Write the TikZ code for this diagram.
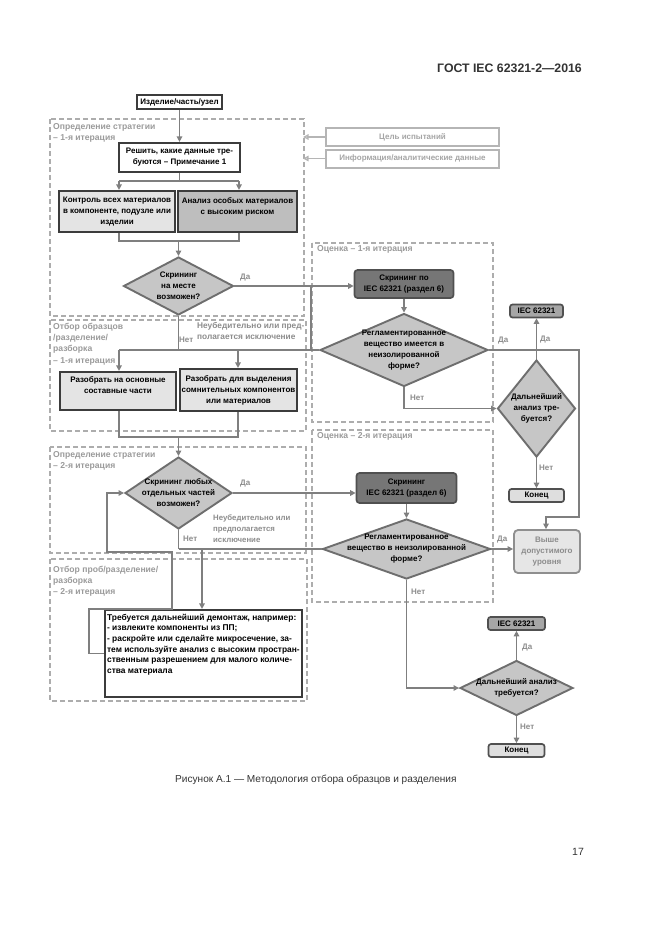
\documentclass[tikz,border=0pt]{standalone}
\usepackage{fontspec}
\setmainfont{Liberation Sans}
\usetikzlibrary{shapes.geometric,arrows.meta}
\definecolor{lnc}{HTML}{7F7F7F}
\definecolor{regc}{HTML}{ADADAD}
\definecolor{labc}{HTML}{9A9A9A}
\definecolor{ync}{HTML}{8C8C8C}
\definecolor{boxc}{HTML}{3C3C3C}
\definecolor{diaf}{HTML}{C6C6C6}
\definecolor{diac}{HTML}{6E6E6E}
\definecolor{lightf}{HTML}{E4E4E4}
\definecolor{midf}{HTML}{BEBEBE}
\definecolor{scf}{HTML}{767676}
\definecolor{scb}{HTML}{505050}
\definecolor{iecf}{HTML}{A6A6A6}
\definecolor{endf}{HTML}{DEDEDE}
\definecolor{abf}{HTML}{E6E6E6}
\definecolor{abb}{HTML}{8F8F8F}
\definecolor{abt}{HTML}{8C8C8C}
\definecolor{gb}{HTML}{B5B5B5}
\definecolor{gt}{HTML}{A5A5A5}
\definecolor{capc}{HTML}{333333}
\newcommand\mybf{\fontsize{8}{11}\selectfont\bfseries}
\newcommand\mylab{\fontsize{8.6}{11.2}\selectfont\bfseries}
\begin{document}
\begin{tikzpicture}[x=1pt,y=-1pt,
  ln/.style={draw=lnc, line width=1.6},
  arr/.style={ln, -{Triangle[width=5.5pt,length=5.5pt]}},
  arrg/.style={draw=gb, line width=1.5, -{Triangle[width=5.5pt,length=5.5pt,open]}},
  region/.style={draw=regc, line width=1.8, dash pattern=on 5pt off 3pt},
  rlabel/.style={anchor=north west, align=left, font=\mylab, text=labc, inner sep=0},
  yn/.style={font=\mybf, text=ync, inner sep=0},
  box/.style={draw=boxc, line width=2.2, fill=white, align=center, font=\mybf, inner sep=1},
  dia/.style={diamond, draw=diac, line width=1.9, fill=diaf, inner sep=0},
  dtxt/.style={align=center, font=\mybf, inner sep=0},
  scbox/.style={draw=scb, line width=1.7, fill=scf, rounded corners=3, align=center, font=\mybf, inner sep=1},
  iecbox/.style={draw=scb, line width=1.7, fill=iecf, rounded corners=2.5, font=\mybf, inner sep=1},
  endbox/.style={draw=scb, line width=1.7, fill=endf, rounded corners=2.5, font=\mybf, inner sep=1},
  gbox/.style={draw=gb, line width=2, fill=white, font=\mybf, text=gt, inner sep=1}
]
\useasboundingbox (0,0) rectangle (661,935);

% header, caption, page number
\node[anchor=east, font=\fontsize{12.3}{14}\selectfont\bfseries, text=capc, inner sep=0] (hdr) at (582,68) {ГОСТ IEC 62321-2—2016};
\node[anchor=west, font=\fontsize{10.1}{12}\selectfont, text=capc, inner sep=0] (cap) at (175,780) {Рисунок А.1 — Методология отбора образцов и разделения};
\node[font=\fontsize{10.5}{12}\selectfont, text=capc, inner sep=0] (pg) at (578,852) {17};

% dashed regions
\draw[region] (50,119) rectangle (304,316);
\draw[region] (50,320) rectangle (306,431);
\draw[region] (50,447) rectangle (306,553);
\draw[region] (50,559) rectangle (307,701);
\draw[region] (312,243) rectangle (493,422);
\draw[region] (312,430) rectangle (493,602);

\node[rlabel] (l1) at (53,123) {Определение стратегии\\– 1-я итерация};
\node[rlabel] (l2) at (53,323) {Отбор образцов\\/разделение/\\разборка\\– 1-я итерация};
\node[rlabel] (l3) at (53,451) {Определение стратегии\\– 2-я итерация};
\node[rlabel] (l4) at (53,566) {Отбор проб/разделение/\\разборка\\– 2-я итерация};
\node[rlabel] (l5) at (317,245) {Оценка – 1-я итерация};
\node[rlabel] (l6) at (317,432) {Оценка – 2-я итерация};

% side info boxes
\node[gbox, minimum width=173, minimum height=18] (g1) at (412.5,137) {Цель испытаний};
\node[gbox, minimum width=173, minimum height=18] (g2) at (412.5,158.5) {Информация/аналитические данные};
\coordinate (gl) at (303,137);
\draw[arrg] (g1.west) -- (g1.west -| gl);
\draw[arrg] (g2.west) -- (g2.west -| gl);

% left column
\node[box, minimum width=85, minimum height=14] (s0) at (179.5,102) {Изделие/часть/узел};
\node[box, minimum width=121, minimum height=29] (b1) at (179.5,157.5) {Решить, какие данные тре-\\буются – Примечание 1};
\node[box, fill=lightf, minimum width=116, minimum height=41] (b2) at (117,211.5) {Контроль всех материалов\\в компоненте, подузле или\\изделии};
\node[box, fill=midf, minimum width=119, minimum height=41] (b3) at (237.5,211.5) {Анализ особых материалов\\с высоким риском\\\phantom{I}};
\node[dia, minimum width=110, minimum height=58] (d1) at (178.5,286) {};
\node[dtxt] (d1t) at (d1) {Скрининг\\на месте\\возможен?};

\draw[arr] (s0.south) -- (b1.north);
\coordinate (j1) at (179.5,181);
\coordinate (sp1l) at (119,181);
\coordinate (sp1r) at (239,181);
\draw[ln] (b1.south) -- (j1);
\draw[ln] (sp1l) -- (sp1r);
\draw[arr] (sp1l) -- (sp1l |- b2.north);
\draw[arr] (sp1r) -- (sp1r |- b3.north);
\coordinate (m1l) at (119,241);
\coordinate (m1r) at (239,241);
\coordinate (m1c) at (178.5,241);
\draw[ln] (m1l |- b2.south) -- (m1l) -- (m1r) -- (m1r |- b3.south);
\draw[arr] (m1c) -- (d1.north);

\node[box, fill=lightf, minimum width=116, minimum height=38] (c1) at (118,391) {Разобрать на основные\\составные части\\\phantom{I}};
\node[box, fill=lightf, minimum width=117, minimum height=42] (c2) at (238.5,390) {Разобрать для выделения\\сомнительных компонентов\\или материалов};

\node[dia, minimum width=107, minimum height=72] (d2) at (178.5,493) {};
\node[dtxt] (d2t) at (d2) {Скрининг любых\\отдельных частей\\возможен?};

\node[box, minimum width=197, minimum height=87] (t) at (203.5,653.5) {};
\node[anchor=north west, align=left, font=\fontsize{8.4}{10.6}\selectfont\bfseries, inner sep=0] (tt) at ([xshift=3pt,yshift=-5pt]t.north west) {Требуется дальнейший демонтаж, например:\\- извлеките компоненты из ПП;\\- раскройте или сделайте микросечение, за-\\тем используйте анализ с высоким простран-\\ственным разрешением для малого количе-\\ства материала};

% evaluation column 1
\node[scbox, minimum width=99, minimum height=28] (sc1) at (404,284) {Скрининг по\\IEC 62321 (раздел 6)};
\node[dia, minimum width=168, minimum height=73] (r1) at (404,350) {};
\node[dtxt] (r1t) at (r1) {Регламентированное\\вещество имеется в\\неизолированной\\форме?};
\node[iecbox, minimum width=53, minimum height=13] (iec1) at (536.5,311) {IEC 62321};
\node[dia, minimum width=78, minimum height=97] (f1) at (536.5,408.5) {};
\node[dtxt] (f1t) at (f1) {Дальнейший\\анализ тре-\\буется?};
\node[endbox, minimum width=55, minimum height=13] (end1) at (536.5,495.5) {Конец};
\node[draw=abb, line width=1.8, fill=abf, rounded corners=4, align=center, font=\mybf, text=abt, minimum width=66, minimum height=43, inner sep=1] (ab) at (547,551.5) {Выше\\допустимого\\уровня};

% evaluation column 2
\node[scbox, minimum width=100, minimum height=30] (sc2) at (406.5,488) {Скрининг\\IEC 62321 (раздел 6)};
\node[dia, minimum width=168, minimum height=60] (r2) at (406.5,549) {};
\node[dtxt] (r2t) at (r2) {Регламентированное\\вещество в неизолированной\\форме?};
\node[iecbox, minimum width=57, minimum height=13] (iec2) at (516.5,623.5) {IEC 62321};
\node[dia, minimum width=113, minimum height=55] (f2) at (516.5,688) {};
\node[dtxt] (f2t) at (f2) {Дальнейший анализ\\требуется?};
\node[endbox, minimum width=56, minimum height=13] (end2) at (516.5,750.5) {Конец};

% connectors: first screening
\draw[arr] (d1.east) -- (d1.east -| sc1.west);
\node[yn, anchor=west] (y1) at (240,278) {Да};
\coordinate (vk1) at (311,286);
\coordinate (vk2) at (311,350);
\draw[ln] (vk1) -- (vk2);
\draw[arr] (sc1.south) -- (r1.north);
\coordinate (sp2l) at (119,350);
\coordinate (sp2r) at (238,350);
\draw[ln] (r1.west) -- (sp2l);
\draw[ln] (d1.south) -- (d1.south |- sp2l);
\draw[arr] (sp2l) -- (sp2l |- c1.north);
\draw[arr] (sp2r) -- (sp2r |- c2.north);
\node[yn, anchor=west] (n1) at (179,340) {Нет};
\node[anchor=north west, align=left, font=\fontsize{8.3}{11}\selectfont\bfseries, text=ync, inner sep=0] (inc1) at (197,322) {Неубедительно или пред-\\полагается исключение};

% first evaluation
\coordinate (rr1) at (579,350);
\coordinate (rr2) at (579,517);
\coordinate (rr3) at (546,517);
\draw[arr] (r1.east) -- (rr1) -- (rr2) -- (rr3) -- (rr3 |- ab.north);
\node[yn, anchor=west] (y2) at (498,341) {Да};
\draw[arr] (r1.south) -- (r1.south |- f1.west) -- (f1.west);
\node[yn, anchor=west] (n2) at (410,398) {Нет};
\draw[arr] (f1.north) -- (iec1.south);
\node[yn, anchor=west] (y3) at (540,340) {Да};
\draw[arr] (f1.south) -- (end1.north);
\node[yn, anchor=west] (n3) at (539,468) {Нет};

% second iteration
\coordinate (m2l) at (119,437);
\coordinate (m2r) at (238,437);
\coordinate (m2c) at (178.5,437);
\draw[ln] (m2l |- c1.south) -- (m2l) -- (m2r) -- (m2r |- c2.south);
\draw[arr] (m2c) -- (d2.north);
\draw[arr] (d2.east) -- (d2.east -| sc2.west);
\node[yn, anchor=west] (y4) at (240,484) {Да};
\draw[arr] (sc2.south) -- (r2.north);
\coordinate (dn) at (202,549);
\draw[ln] (r2.west) -- (d2.south |- r2.west);
\draw[ln] (d2.south) -- (d2.south |- r2.west);
\draw[arr] (dn) -- (dn |- t.north);
\node[yn, anchor=west] (n4) at (183,539) {Нет};
\node[anchor=north west, align=left, font=\fontsize{7.8}{11}\selectfont\bfseries, text=ync, inner sep=0] (inc2) at (213,515) {Неубедительно или\\предполагается\\исключение};
\coordinate (lp1) at (89,653.5);
\coordinate (lp2) at (89,609);
\coordinate (lp3) at (172,609);
\coordinate (lp4) at (172,552);
\coordinate (lp5) at (107,552);
\coordinate (lp6) at (107,493);
\draw[arr] (t.west) -- (lp1) -- (lp2) -- (lp3) -- (lp4) -- (lp5) -- (lp6) -- (d2.west);

% second evaluation
\draw[arr] (r2.east) -- (r2.east -| ab.west);
\node[yn, anchor=west] (y5) at (497,540) {Да};
\draw[arr] (r2.south) -- (r2.south |- f2.west) -- (f2.west);
\node[yn, anchor=west] (n5) at (411,592) {Нет};
\draw[arr] (f2.north) -- (iec2.south);
\node[yn, anchor=west] (y6) at (522,648) {Да};
\draw[arr] (f2.south) -- (end2.north);
\node[yn, anchor=west] (n6) at (520,727) {Нет};
\end{tikzpicture}
\end{document}
